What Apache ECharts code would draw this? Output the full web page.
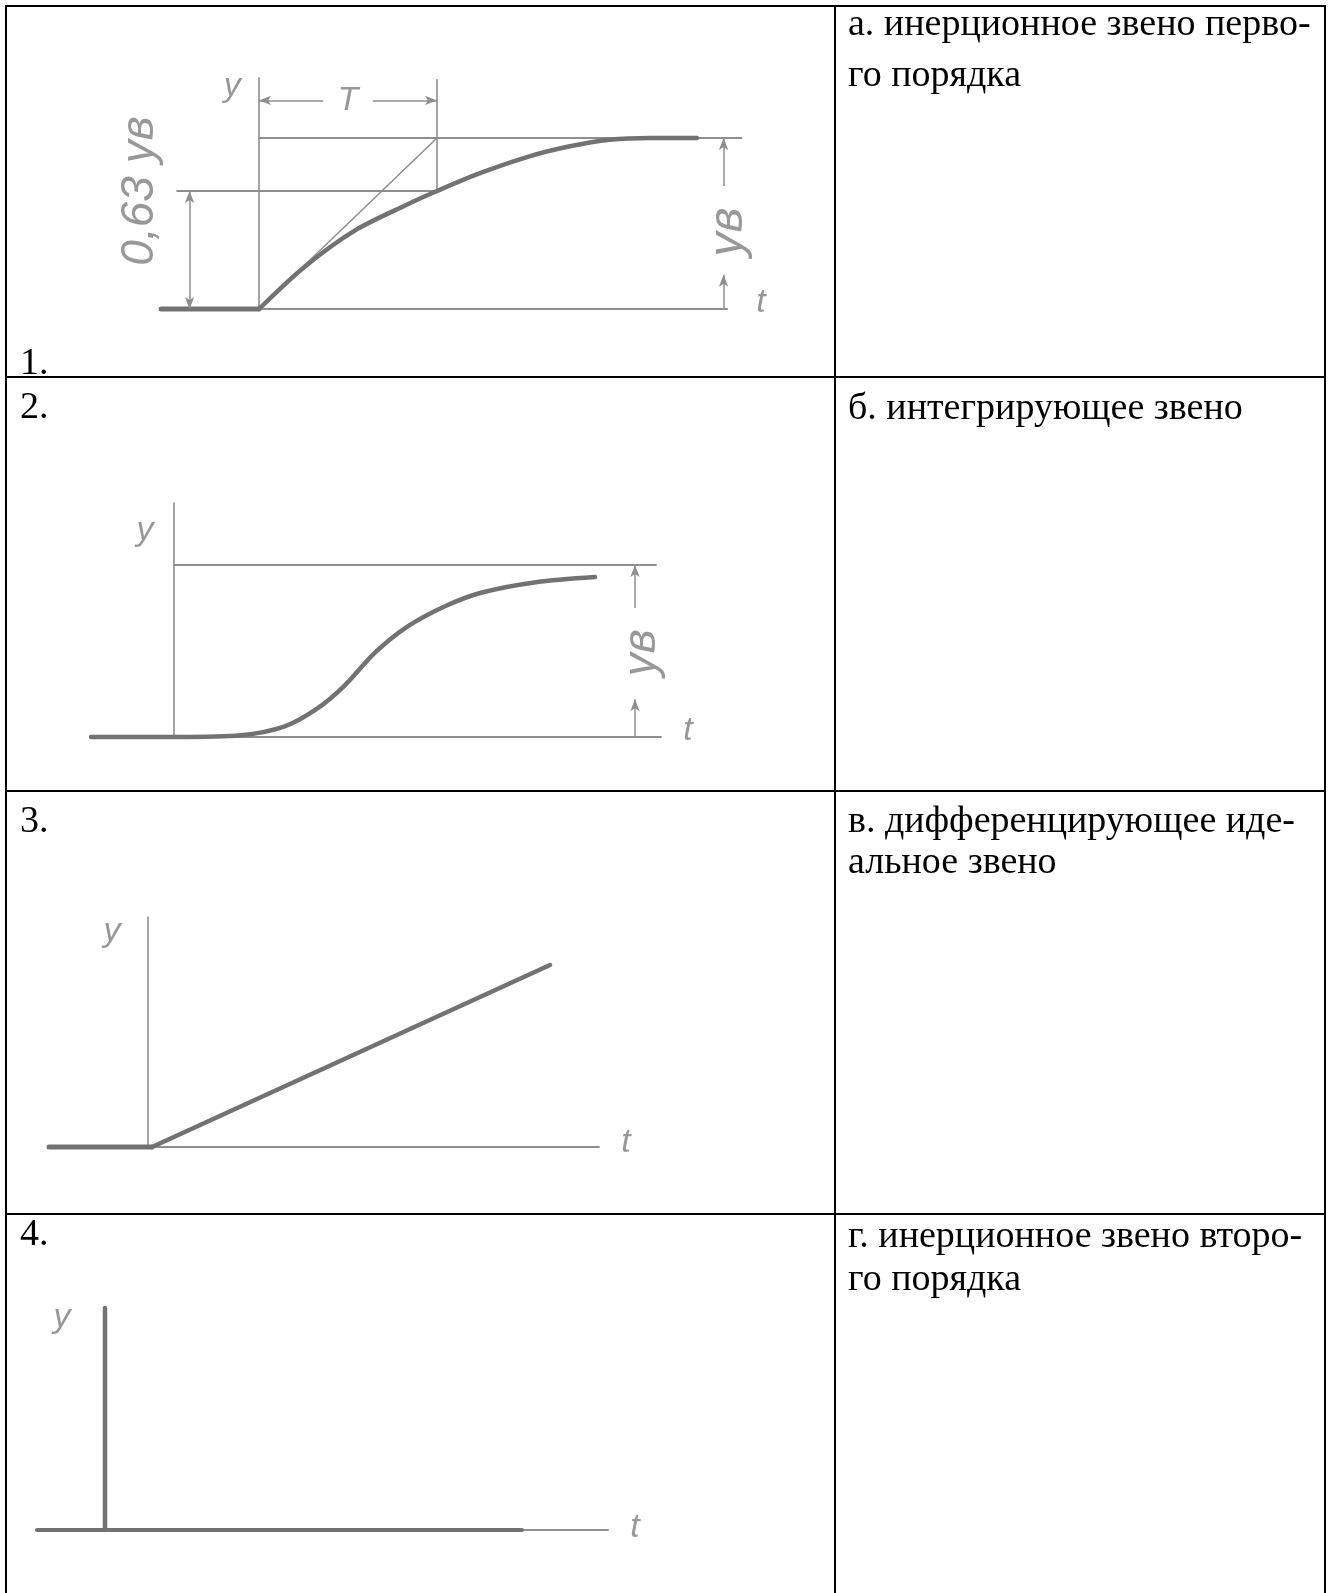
<!DOCTYPE html>
<html><head><meta charset="utf-8">
<script src="https://cdn.jsdelivr.net/npm/echarts@6.0.0/dist/echarts.min.js"></script>
<style>html,body{margin:0;padding:0;background:#fff}#c{width:1332px;height:1593px}</style>
</head><body><div id="c"></div>
<script>
// ---------- table texts ----------
const rowNumbers = ['1.', '2.', '3.', '4.'];
const descriptions = [
  ['а. инерционное звено перво-', 'го порядка'],
  ['б. интегрирующее звено'],
  ['в. дифференцирующее иде-', 'альное звено'],
  ['г. инерционное звено второ-', 'го порядка']
];

// ---------- panel 1: first-order lag (t in units of T, y in units of yв) ----------
const p1Input   = [[-0.55, 0], [0, 0]];
const p1Curve   = [[0, 0], [0.26, 0.25], [0.54, 0.46], [0.83, 0.61], [1.0, 0.69], [1.23, 0.79], [1.51, 0.89], [1.74, 0.95], [1.97, 0.99], [2.2, 1.0], [2.46, 1.0]];
const p1Tangent = [[0, 0], [1, 1]];
const p1Top     = [[0, 1], [2.71, 1]];
const p1Level   = [[-0.46, 0.69], [1.0, 0.69]];
const p1TLine   = [[1, 0.68], [1, 1.34]];
const p1Axis    = [[0, 0], [0, 1.35]];
const p1Base    = [[0, 0], [2.63, 0]];
const p1DimLeft  = [[-0.39, 0.69], [-0.39, 0]];
const p1DimRight = [[2.61, 1], [2.61, 0.72], [2.61, 0.20], [2.61, 0]];
const p1DimT     = [[0, 1.22], [0.36, 1.22], [0.64, 1.22], [1, 1.22]];
const p1Labels = [
  { p: [-0.15, 1.30], text: 'y', rot: 0, size: 34 },
  { p: [2.82, 0.04], text: 't', rot: 0, size: 34 },
  { p: [-0.67, 0.69], text: '0,63 yв', rot: 90, size: 46 },
  { p: [2.64, 0.45], text: 'yв', rot: 90, size: 48 },
  { p: [0.5, 1.22], text: 'T', rot: 0, size: 34 }
];

// ---------- panel 2: second-order lag ----------
const p2Curve = [[-0.83, 0], [0.03, 0], [0.67, 0.01], [1.10, 0.06], [1.42, 0.16], [1.69, 0.29], [2.01, 0.49], [2.33, 0.64], [2.71, 0.76], [3.08, 0.84], [3.62, 0.90], [4.21, 0.93]];
const p2Top   = [[0, 1], [4.82, 1]];
const p2Base  = [[0, 0], [4.87, 0]];
const p2Axis  = [[0, 0], [0, 1.36]];
const p2Dim   = [[4.61, 1], [4.61, 0.75], [4.61, 0.22], [4.61, 0]];
const p2Labels = [
  { p: [-0.29, 1.20], text: 'y', rot: 0, size: 34 },
  { p: [5.14, 0.04], text: 't', rot: 0, size: 34 },
  { p: [4.68, 0.49], text: 'yв', rot: 90, size: 46 }
];

// ---------- panel 3: integrator (ramp) ----------
const p3Input = [[-0.99, 0], [0.04, 0]];
const p3Ramp  = [[0.04, 0], [4.02, 1.82]];
const p3Base  = [[0, 0], [4.51, 0]];
const p3Axis  = [[0, 0], [0, 2.30]];
const p3Labels = [
  { p: [-0.36, 2.15], text: 'y', rot: 0, size: 34 },
  { p: [4.78, 0.04], text: 't', rot: 0, size: 34 }
];

// ---------- panel 4: ideal differentiator (impulse) ----------
const p4Impulse = [[0, 0], [0, 2.22]];
const p4Signal  = [[-0.68, 0], [4.17, 0]];
const p4Base    = [[0, 0], [5.03, 0]];
const p4Labels = [
  { p: [-0.43, 2.12], text: 'y', rot: 0, size: 34 },
  { p: [5.30, 0.02], text: 't', rot: 0, size: 34 }
];

// ---------- layout ----------
const grids = [
  { left: 81,  top: 309 - 1.6 * 171, width: 4.2 * 178, height: 1.8 * 171, xmin: -1, xmax: 3.2, ymin: -0.2, ymax: 1.6 },
  { left: 74,  top: 461.8, width: 650, height: 1.8 * 172, xmin: -1, xmax: 5.5, ymin: -0.2, ymax: 1.6 },
  { left: 48,  top: 887,   width: 650, height: 280, xmin: -1, xmax: 5.5, ymin: -0.2, ymax: 2.6 },
  { left: 5,   top: 1270,  width: 650, height: 280, xmin: -1, xmax: 5.5, ymin: -0.2, ymax: 2.6 }
];

const THICK = '#727272', THIN = '#8e8e8e', LBL = '#7e7e7e';
function seg(g, data, w, color, smooth) {
  return { type: 'line', xAxisIndex: g, yAxisIndex: g, data: data, symbol: 'none', showSymbol: false,
    smooth: smooth || false, clip: false, silent: true, animation: false,
    lineStyle: { width: w, color: color, cap: 'round', join: 'round' } };
}
// dimension line segments, arrow at the outer end of each pair
function dim(g, pts) {
  const md = [];
  for (let i = 0; i < pts.length; i += 2) {
    md.push([{ coord: pts[i + 1] }, { coord: pts[i] }]);
  }
  return { type: 'line', xAxisIndex: g, yAxisIndex: g, data: [], silent: true, animation: false,
    markLine: { silent: true, animation: false, symbol: ['none', 'arrow'], symbolSize: [7, 12],
      label: { show: false }, lineStyle: { type: 'solid', width: 1.5, color: THIN }, data: md } };
}
function dimBoth(g, a, b) {
  const m = [(a[0] + b[0]) / 2, (a[1] + b[1]) / 2];
  return dim(g, [a, m, b, m]);
}
function labels(g, list) {
  return { type: 'scatter', xAxisIndex: g, yAxisIndex: g, symbolSize: 0, silent: true, animation: false,
    data: list.map(l => ({ value: l.p, label: { show: true, position: 'inside', formatter: l.text, rotate: l.rot, fontSize: l.size } })),
    label: { show: true, color: LBL, fontFamily: 'Liberation Sans', fontStyle: 'italic' } };
}

const series = [
  // panel 1
  seg(0, p1Axis, 1.6, THIN), seg(0, p1Base, 1.8, THIN), seg(0, p1Top, 1.8, THIN),
  seg(0, p1Level, 1.8, THIN), seg(0, p1TLine, 1.6, THIN), seg(0, p1Tangent, 1.5, THIN),
  seg(0, p1Input, 5, THICK), seg(0, p1Curve, 4.5, THICK, 0.3),
  dimBoth(0, p1DimLeft[0], p1DimLeft[1]),
  dim(0, p1DimRight), dim(0, [p1DimT[0], p1DimT[1], p1DimT[3], p1DimT[2]]),
  labels(0, p1Labels),
  // panel 2
  seg(1, p2Axis, 1.6, THIN), seg(1, p2Base, 1.8, THIN), seg(1, p2Top, 1.8, THIN),
  seg(1, p2Curve, 4.5, THICK, 0.3), dim(1, p2Dim), labels(1, p2Labels),
  // panel 3
  seg(2, p3Axis, 1.6, THIN), seg(2, p3Base, 1.8, THIN),
  seg(2, p3Input, 5, THICK), seg(2, p3Ramp, 4.5, THICK), labels(2, p3Labels),
  // panel 4
  seg(3, p4Base, 1.8, THIN), seg(3, p4Signal, 4, THICK), seg(3, p4Impulse, 4.5, THICK), labels(3, p4Labels)
];

// ---------- table graphics ----------
const T = { left: 6, right: 1325, col: 835, rows: [6, 377, 791, 1214], bottom: 1600 };
const graphic = [];
function hline(y, x1, x2) { graphic.push({ type: 'line', shape: { x1: x1, y1: y, x2: x2, y2: y }, style: { stroke: '#000', lineWidth: 2 } }); }
function vline(x, y1, y2) { graphic.push({ type: 'line', shape: { x1: x, y1: y1, x2: x, y2: y2 }, style: { stroke: '#000', lineWidth: 2 } }); }
T.rows.forEach(y => hline(y, T.left - 1, T.right + 1));
vline(T.left, T.rows[0] - 1, T.bottom);
vline(T.col, T.rows[0] - 1, T.bottom);
vline(T.right, T.rows[0] - 1, T.bottom);

const FONT = '38px "Liberation Serif", "Times New Roman", serif';
function txt(x, y, s) { graphic.push({ type: 'text', x: x, y: y, silent: true, style: { text: s, font: FONT, fill: '#000', verticalAlign: 'middle', align: 'left' } }); }
const numY = [364, 408, 822, 1235];
rowNumbers.forEach((n, i) => txt(20, numY[i], n));
const descY = [[25, 76], [409], [822, 863], [1237, 1280]];
descriptions.forEach((lines, i) => lines.forEach((s, j) => txt(848, descY[i][j], s)));

const chart = echarts.init(document.getElementById('c'), null, { renderer: 'canvas' });
chart.setOption({
  animation: false,
  backgroundColor: '#fff',
  grid: grids.map(g => ({ left: g.left, top: g.top, width: g.width, height: g.height, containLabel: false })),
  xAxis: grids.map((g, i) => ({ type: 'value', gridIndex: i, min: g.xmin, max: g.xmax, show: false })),
  yAxis: grids.map((g, i) => ({ type: 'value', gridIndex: i, min: g.ymin, max: g.ymax, show: false })),
  series: series,
  graphic: graphic
});
</script></body></html>
